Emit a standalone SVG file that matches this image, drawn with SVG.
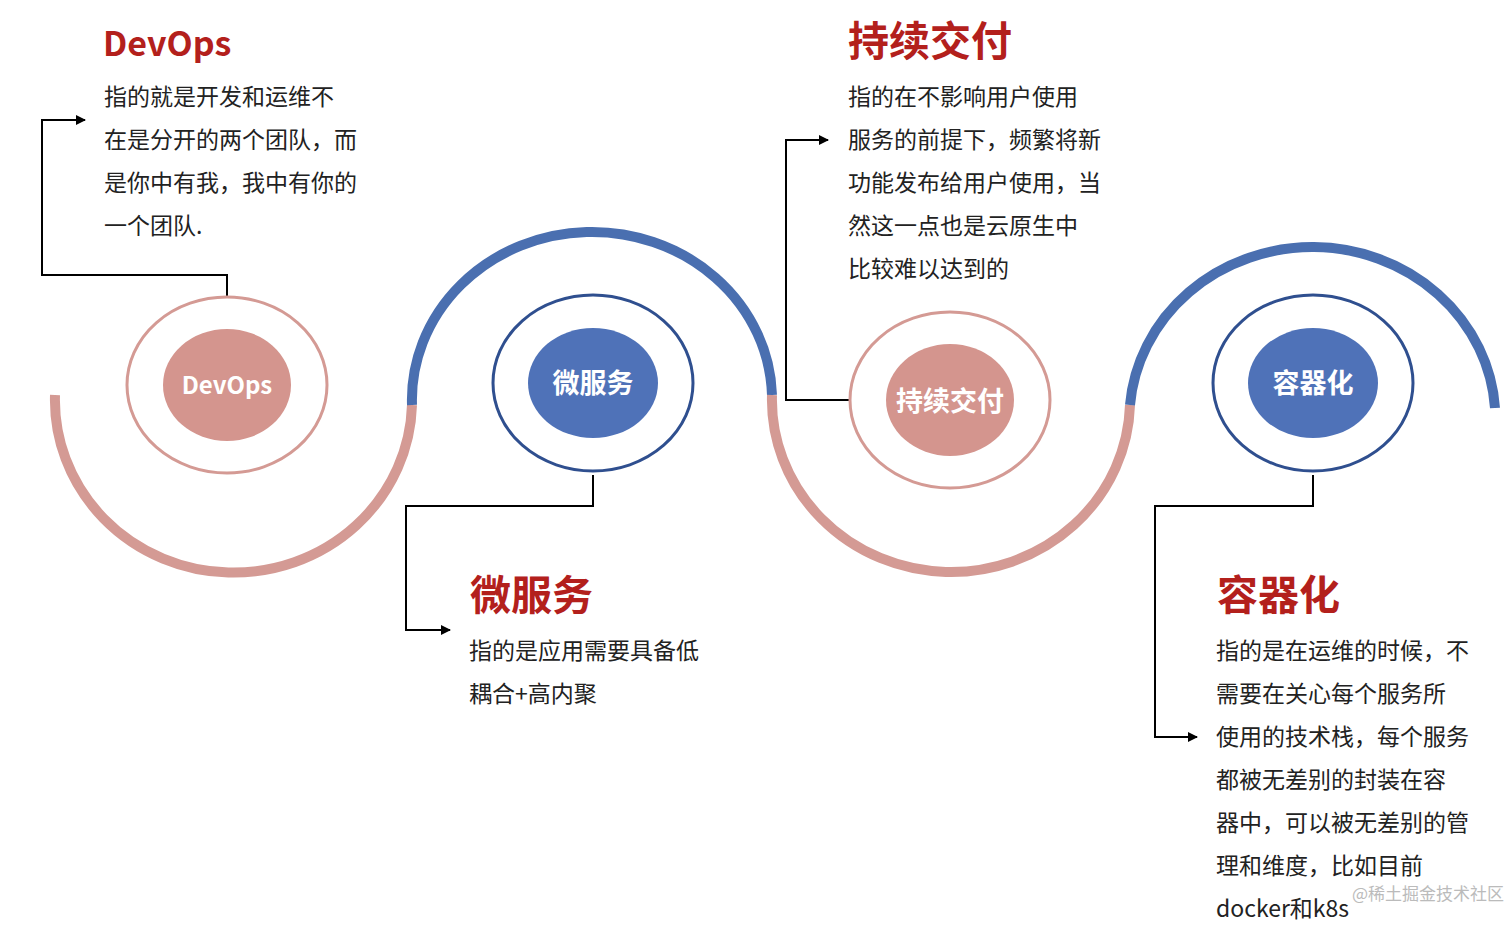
<svg xmlns="http://www.w3.org/2000/svg" width="1512" height="932" viewBox="0 0 1512 932">
<defs>
<marker id="ar" markerWidth="10" markerHeight="10" refX="9" refY="5" orient="auto" markerUnits="userSpaceOnUse"><path d="M0,0L10,5L0,10z" fill="#000"/></marker>
<style>
.pk{fill:none;stroke:#d49a94;stroke-width:10}
.bl{fill:none;stroke:#4a6fb0;stroke-width:10}
.op{fill:#fff;stroke:#d49a94;stroke-width:3}
.ob{fill:#fff;stroke:#2f4f8f;stroke-width:3}
.ip{fill:#d4958e}
.ib{fill:#4f72b8}
.lbl{font-family:"Noto Sans CJK SC","Liberation Sans",sans-serif;font-weight:bold;font-size:27px;fill:#fff;text-anchor:middle}
.ttl{font-family:"Noto Sans CJK SC","Liberation Sans",sans-serif;font-weight:bold;font-size:41px;fill:#b3201c}
.bd{font-family:"Noto Sans CJK SC","Liberation Sans",sans-serif;font-size:23px;fill:#222}
.cn{fill:none;stroke:#000;stroke-width:2}
</style>
</defs>
<rect width="1512" height="932" fill="#fff"/>
<g id="wave">
<path class="pk" d="M55,395 A178,172 0 0 0 412,405"/>
<path class="bl" d="M412,405 A180,168 0 0 1 772,395"/>
<path class="pk" d="M772,395 A179,172 0 0 0 1130,405"/>
<path class="bl" d="M1130,405 A183,172 0 0 1 1495,408"/>
</g>
<g id="connectors">
<path class="cn" d="M227,297V275H42V120H85" marker-end="url(#ar)"/>
<path class="cn" d="M593,475V506H406V630H450" marker-end="url(#ar)"/>
<path class="cn" d="M850,400H786V140H828" marker-end="url(#ar)"/>
<path class="cn" d="M1313,475V506H1155V737H1197" marker-end="url(#ar)"/>
</g>
<g id="node-devops">
<ellipse class="op" cx="227" cy="385" rx="100" ry="88"/>
<ellipse class="ip" cx="227" cy="385" rx="64" ry="56"/>
<text class="lbl" x="227" y="394" style="font-size:24px">DevOps</text>
</g>
<g id="node-micro">
<ellipse class="ob" cx="593" cy="383" rx="100" ry="88"/>
<ellipse class="ib" cx="593" cy="383" rx="65" ry="55"/>
<text class="lbl" x="593" y="393">微服务</text>
</g>
<g id="node-cd">
<ellipse class="op" cx="950" cy="400" rx="100" ry="88"/>
<ellipse class="ip" cx="950" cy="400" rx="64" ry="56"/>
<text class="lbl" x="950" y="411">持续交付</text>
</g>
<g id="node-container">
<ellipse class="ob" cx="1313" cy="383" rx="100" ry="88"/>
<ellipse class="ib" cx="1313" cy="383" rx="65" ry="55"/>
<text class="lbl" x="1313" y="393">容器化</text>
</g>
<g id="text-devops">
<text class="ttl" x="103" y="56" style="font-size:34px">DevOps</text>
<text class="bd" x="104" y="105">指的就是开发和运维不</text>
<text class="bd" x="104" y="148">在是分开的两个团队，而</text>
<text class="bd" x="104" y="191">是你中有我，我中有你的</text>
<text class="bd" x="104" y="234">一个团队.</text>
</g>
<g id="text-micro">
<text class="ttl" x="470" y="610">微服务</text>
<text class="bd" x="469" y="659">指的是应用需要具备低</text>
<text class="bd" x="469" y="702">耦合+高内聚</text>
</g>
<g id="text-cd">
<text class="ttl" x="848" y="56">持续交付</text>
<text class="bd" x="848" y="105">指的在不影响用户使用</text>
<text class="bd" x="848" y="148">服务的前提下，频繁将新</text>
<text class="bd" x="848" y="191">功能发布给用户使用，当</text>
<text class="bd" x="848" y="234">然这一点也是云原生中</text>
<text class="bd" x="848" y="277">比较难以达到的</text>
</g>
<g id="text-container">
<text class="ttl" x="1217" y="610">容器化</text>
<text class="bd" x="1216" y="659">指的是在运维的时候，不</text>
<text class="bd" x="1216" y="702">需要在关心每个服务所</text>
<text class="bd" x="1216" y="745">使用的技术栈，每个服务</text>
<text class="bd" x="1216" y="788">都被无差别的封装在容</text>
<text class="bd" x="1216" y="831">器中，可以被无差别的管</text>
<text class="bd" x="1216" y="874">理和维度，比如目前</text>
<text class="bd" x="1216" y="917">docker和k8s</text>
</g>
<text x="1352" y="900" font-family="Noto Sans CJK SC, sans-serif" font-size="17" fill="#bbb">@稀土掘金技术社区</text>
</svg>
